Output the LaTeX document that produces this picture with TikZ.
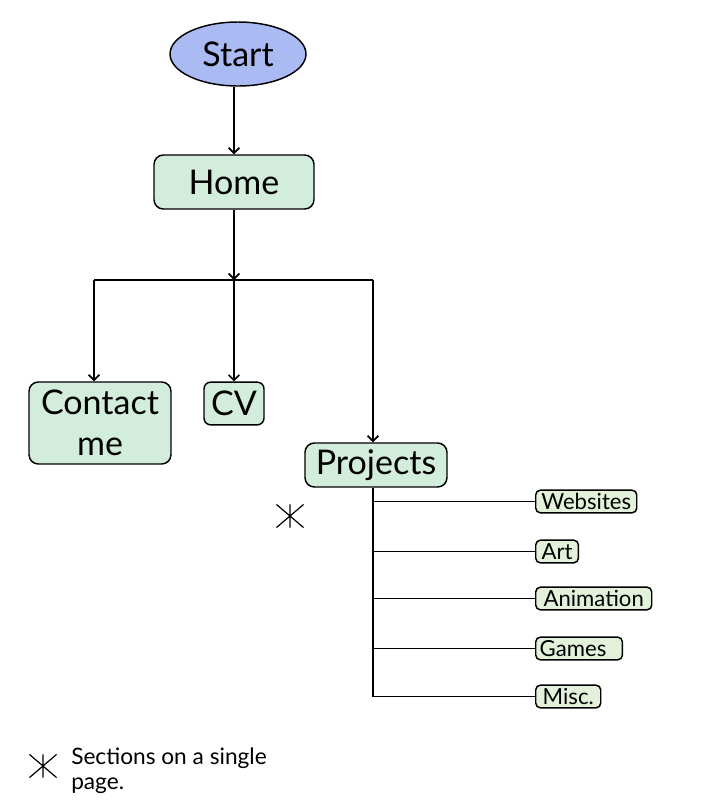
\documentclass[tikz,border=0pt]{standalone}
\usepackage{fontspec}
\setmainfont{Lato}
\usepackage{tikz}
\usetikzlibrary{arrows.meta,shapes.geometric}
\definecolor{StartBlue}{RGB}{170,187,243}
\definecolor{PageGreen}{RGB}{211,237,220}
\definecolor{SubGreen}{RGB}{227,240,218}

\tikzset{
  pagebox/.style={draw, line width=1.1pt, fill=PageGreen, rounded corners=7pt,
    inner sep=2pt, font=\fontsize{25.5}{30.75}\selectfont},
  subbox/.style={draw, line width=1.1pt, fill=SubGreen, rounded corners=3.5pt,
    anchor=west, inner sep=1.5pt, minimum height=17pt, font=\fontsize{16.6}{18}\selectfont},
  link/.style={line width=1.25pt},
  starmark/.style={inner sep=0pt, minimum width=20pt, minimum height=17pt},
}

\begin{document}
\begin{tikzpicture}[x=0.75pt,y=0.75pt,yscale=-1,xscale=1, >={Straight Barb[length=4pt,width=8pt]}]
\path[use as bounding box] (0,0) rectangle (717,801);

% pages
\node (start) at (238,54) [ellipse, draw, line width=1.1pt, fill=StartBlue, minimum width=102pt, minimum height=48pt, inner sep=0pt, font=\fontsize{25.5}{30.75}\selectfont] {Start};
\node (home) at (234,182) [pagebox, minimum width=120pt, minimum height=40.5pt] {Home};
\node (contact) at (100,423) [pagebox, minimum width=106.5pt, minimum height=61.5pt, text width=102pt, align=center] {Contact\\me};
\node (cv) at (234,403.5) [pagebox, minimum width=45pt, minimum height=32pt, rounded corners=5pt] {CV};
\node (projects) at (376,465) [pagebox, minimum width=106.5pt, minimum height=33pt] {Projects};

% project sections
\node (websites) at (535,501.5) [subbox, minimum width=75.75pt] {Websites};
\node (art) at (535,551.5) [subbox, minimum width=32pt] {Art};
\node (animation) at (535,598.5) [subbox, minimum width=87pt] {Animation};
\node (games) at (535,648.5) [subbox, minimum width=64.5pt, text width=59pt, align=left, inner xsep=3pt] {Games};
\node (misc) at (535,696.5) [subbox, minimum width=48.75pt] {Misc.};

% junctions
\coordinate (split) at (234,280);
\coordinate (splitL) at (94,280);
\coordinate (splitR) at (373,280);

\draw [link, ->] (home.north |- start.south) -- (home.north);
\draw [link, ->] (home.south) -- (split);
\draw [link] (splitL) -- (splitR);
\draw [link, ->] (splitL) -- (splitL |- contact.north);
\draw [link, ->] (split) -- (cv.north);
\draw [link, ->] (splitR) -- (splitR |- projects.north);

\draw [link] (splitR |- projects.south) -- (splitR |- misc.west) -- (misc.west);
\foreach \sec in {websites,art,animation,games}
  \draw [link] (splitR |- \sec.west) -- (\sec.west);

% single page marks
\node (mark) at (290,516) [starmark] {};
\draw [line width=0.9pt] (mark.north west) -- (mark.south east) (mark.south west) -- (mark.north east) (mark.north) -- (mark.south);
\node (keymark) at (43,766) [starmark] {};
\draw [line width=0.9pt] (keymark.north west) -- (keymark.south east) (keymark.south west) -- (keymark.north east) (keymark.north) -- (keymark.south);
\node (key) at (71,771) [anchor=west, inner sep=0pt, align=left, font=\fontsize{17}{18.75}\selectfont] {Sections on a single\\page.};

\end{tikzpicture}
\end{document}
